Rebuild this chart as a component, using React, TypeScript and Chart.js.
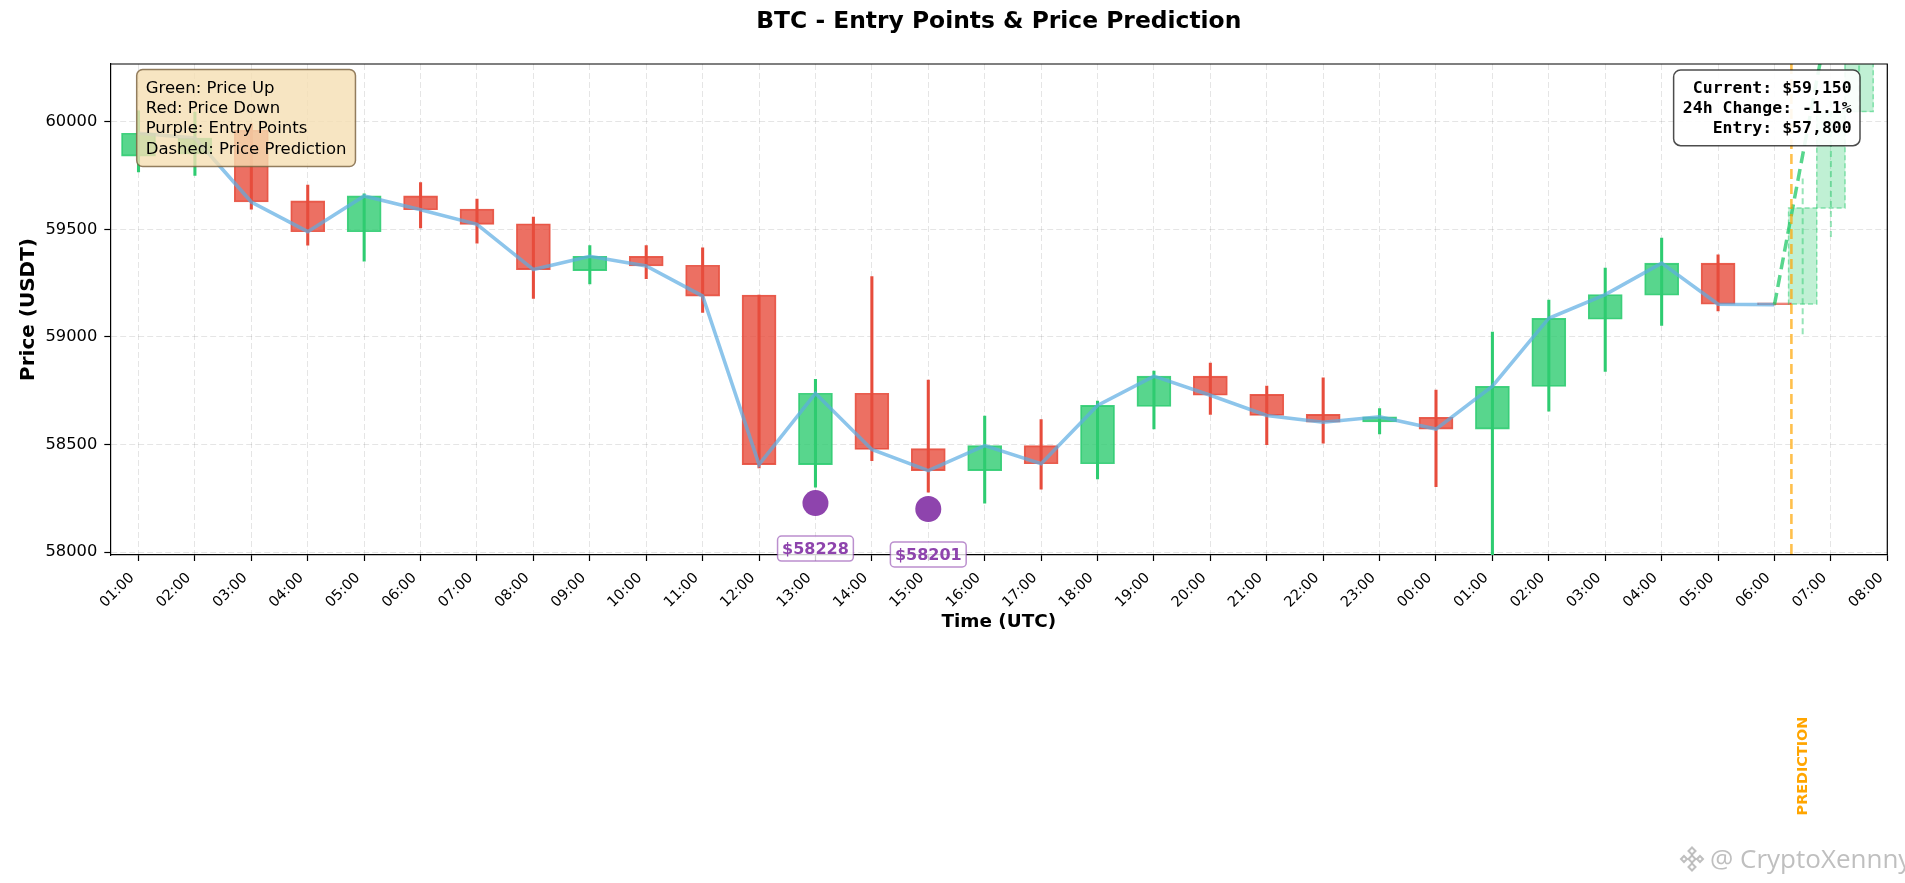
import React, { useEffect, useRef } from "react";
import { Chart, registerables } from "chart.js";

Chart.register(...registerables);

const FONT = "'DejaVu Sans', sans-serif";
const MONO = "'DejaVu Sans Mono', monospace";

const TITLE = "BTC - Entry Points & Price Prediction";

const TIME_LABELS = [
  "01:00", "02:00", "03:00", "04:00", "05:00", "06:00", "07:00", "08:00",
  "09:00", "10:00", "11:00", "12:00", "13:00", "14:00", "15:00", "16:00",
  "17:00", "18:00", "19:00", "20:00", "21:00", "22:00", "23:00", "00:00",
  "01:00", "02:00", "03:00", "04:00", "05:00", "06:00", "07:00", "08:00",
];

const OPEN = [
  59840, 59850, 59960, 59632, 59489, 59655, 59594, 59526, 59308, 59375,
  59333, 59195, 58407, 58738, 58481, 58379, 58495, 58411, 58677, 58818,
  58733, 58640, 58605, 58627, 58572, 58770, 59082, 59194, 59343, 59158,
];
const HIGH = [
  60050, 60045, 59990, 59705, 59665, 59717, 59640, 59557, 59425, 59425,
  59414, 59195, 58803, 59280, 58800, 58632, 58616, 58702, 58842, 58879,
  58772, 58810, 58667, 58753, 59023, 59171, 59320, 59459, 59382, 59158,
];
const LOW = [
  59767, 59750, 59594, 59426, 59352, 59506, 59436, 59179, 59246, 59271,
  59114, 58391, 58302, 58425, 58279, 58228, 58293, 58340, 58573, 58640,
  58500, 58506, 58549, 58304, 57980, 58655, 58840, 59054, 59121, 59149,
];
const CLOSE = [
  59946, 59924, 59627, 59489, 59655, 59591, 59523, 59313, 59375, 59330,
  59190, 58407, 58738, 58477, 58379, 58495, 58411, 58682, 58818, 58729,
  58635, 58604, 58629, 58572, 58771, 59087, 59197, 59343, 59152, 59150,
];

// prediction (positions in hour-index units of TIME_LABELS)
const PRED_X = [29.5, 30, 30.5];
const PRED_OPEN = [59153, 59599, 60047];
const PRED_CLOSE = [59599, 60047, 60480];
const PRED_HIGH = [59736, 60150, 60560];
const PRED_LOW = [59013, 59464, 60047];
const PRED_LINE_X = [29, 29.5, 30];
const PRED_LINE_Y = [59150, 59845, 60540];
const NOW_X = 29.3;

const ENTRY_X = [12, 14];
const ENTRY_PRICE = [58228, 58201];

const CURRENT_PRICE = 59150;
const CHANGE_24H = -1.1;
const ENTRY_TARGET = 57800;

const Y_TICKS = [58000, 58500, 59000, 59500, 60000];
const Y_MIN = 57987;
const Y_MAX = 60268;
const X_MIN = -0.5;
const X_MAX = 31;

const LEGEND_LINES = [
  "Green: Price Up",
  "Red: Price Down",
  "Purple: Entry Points",
  "Dashed: Price Prediction",
];

const WATERMARK = "@ CryptoXennny";

function roundRect(ctx: CanvasRenderingContext2D, x: number, y: number, w: number, h: number, r: number) {
  ctx.beginPath();
  ctx.moveTo(x + r, y);
  ctx.lineTo(x + w - r, y);
  ctx.arcTo(x + w, y, x + w, y + r, r);
  ctx.lineTo(x + w, y + h - r);
  ctx.arcTo(x + w, y + h, x + w - r, y + h, r);
  ctx.lineTo(x + r, y + h);
  ctx.arcTo(x, y + h, x, y + h - r, r);
  ctx.lineTo(x, y + r);
  ctx.arcTo(x, y, x + r, y, r);
  ctx.closePath();
}

function diamond(ctx: CanvasRenderingContext2D, cx: number, cy: number, r: number) {
  ctx.beginPath();
  ctx.moveTo(cx, cy - r);
  ctx.lineTo(cx + r, cy);
  ctx.lineTo(cx, cy + r);
  ctx.lineTo(cx - r, cy);
  ctx.closePath();
  ctx.stroke();
}

const candleColor = (i: number, a: number) =>
  CLOSE[i] >= OPEN[i] ? `rgba(46,204,113,${a})` : `rgba(231,76,60,${a})`;

const overlayPlugin = {
  id: "overlay",
  afterDraw(chart: any) {
    const { ctx, chartArea: ca, scales } = chart;
    const xs = scales.x;
    const ys = scales.y;

    // dashed outlines of predicted candles + "now" line
    const pi = chart.data.datasets.findIndex((d: any) => d.label === "Predicted candles");
    const pmeta = chart.getDatasetMeta(pi);
    ctx.save();
    ctx.beginPath();
    ctx.rect(ca.left, ca.top, ca.right - ca.left, ca.bottom - ca.top);
    ctx.clip();
    ctx.setLineDash([5, 3]);
    ctx.lineWidth = 1.5;
    ctx.strokeStyle = "rgba(46,204,113,0.5)";
    for (const el of pmeta.data) {
      const p = el.getProps(["x", "y", "base", "width"], true);
      const top = Math.min(p.y, p.base);
      const h = Math.abs(p.base - p.y);
      ctx.strokeRect(p.x - p.width / 2, top, p.width, h);
    }
    const nx = xs.getPixelForValue(NOW_X);
    ctx.setLineDash([10, 5]);
    ctx.lineWidth = 2.6;
    ctx.strokeStyle = "rgba(255,165,0,0.7)";
    ctx.beginPath();
    ctx.moveTo(nx, ca.top);
    ctx.lineTo(nx, ca.bottom);
    ctx.stroke();
    ctx.restore();

    // top and right spines
    ctx.save();
    ctx.strokeStyle = "#000";
    ctx.lineWidth = 1.2;
    ctx.beginPath();
    ctx.moveTo(ca.left, ca.top);
    ctx.lineTo(ca.right, ca.top);
    ctx.lineTo(ca.right, ca.bottom);
    ctx.stroke();
    ctx.restore();

    // entry labels
    ctx.save();
    ENTRY_X.forEach((ex, i) => {
      const px = xs.getPixelForValue(ex);
      const py = ys.getPixelForValue(ENTRY_PRICE[i]) + 45.5;
      const text = `$${ENTRY_PRICE[i]}`;
      ctx.font = `bold 16px ${FONT}`;
      const w = ctx.measureText(text).width + 9;
      const h = 25;
      roundRect(ctx, px - w / 2, py - h / 2, w, h, 4);
      ctx.fillStyle = "rgba(255,255,255,0.8)";
      ctx.fill();
      ctx.strokeStyle = "rgba(142,68,173,0.6)";
      ctx.lineWidth = 1.5;
      ctx.stroke();
      ctx.fillStyle = "#8E44AD";
      ctx.textAlign = "center";
      ctx.textBaseline = "middle";
      ctx.fillText(text, px, py + 1);
    });
    ctx.restore();

    // legend box (top-left)
    ctx.save();
    ctx.font = `16.5px ${FONT}`;
    const lx = ca.left + 26.4;
    const ly = ca.top + 5.5;
    const lw = Math.max(...LEGEND_LINES.map((t) => ctx.measureText(t).width)) + 18;
    roundRect(ctx, lx, ly, lw, 97, 6);
    ctx.fillStyle = "rgba(245,222,179,0.8)";
    ctx.fill();
    ctx.strokeStyle = "rgba(120,95,60,0.8)";
    ctx.lineWidth = 1.5;
    ctx.stroke();
    ctx.fillStyle = "#000";
    ctx.textAlign = "left";
    ctx.textBaseline = "alphabetic";
    LEGEND_LINES.forEach((t, i) => ctx.fillText(t, lx + 9, ly + 23.3 + i * 20.3));
    ctx.restore();

    // info box (top-right)
    ctx.save();
    ctx.font = `bold 16.5px ${MONO}`;
    const fmt = (n: number) => n.toLocaleString("en-US");
    const info = [
      `Current: $${fmt(CURRENT_PRICE)}`,
      `24h Change: ${CHANGE_24H.toFixed(1)}%`,
      `Entry: $${fmt(ENTRY_TARGET)}`,
    ];
    const iw = Math.max(...info.map((t) => ctx.measureText(t).width)) + 17.5;
    const ir = ca.right - 27.3;
    const it = ca.top + 6;
    roundRect(ctx, ir - iw, it, iw, 75.7, 7);
    ctx.fillStyle = "rgba(255,255,255,0.9)";
    ctx.fill();
    ctx.strokeStyle = "rgba(0,0,0,0.7)";
    ctx.lineWidth = 1.5;
    ctx.stroke();
    ctx.fillStyle = "#000";
    ctx.textAlign = "right";
    ctx.textBaseline = "alphabetic";
    info.forEach((t, i) => ctx.fillText(t, ir - 8.3, it + 22.5 + i * 20.2));
    ctx.restore();

    // PREDICTION label
    ctx.save();
    ctx.translate(nx + 12, ca.bottom + 211);
    ctx.rotate(-Math.PI / 2);
    ctx.font = `bold 14.4px ${FONT}`;
    ctx.fillStyle = "#FFA500";
    ctx.textAlign = "center";
    ctx.textBaseline = "middle";
    ctx.fillText("PREDICTION", 0, 0);
    ctx.restore();

    // watermark
    ctx.save();
    const wx = chart.width - 195;
    const wy = chart.height - 15;
    ctx.strokeStyle = "rgba(175,175,175,0.8)";
    ctx.lineWidth = 2;
    const cx = wx - 18;
    const cy = wy - 9;
    diamond(ctx, cx, cy, 3.5);
    diamond(ctx, cx - 8, cy, 3);
    diamond(ctx, cx + 8, cy, 3);
    diamond(ctx, cx, cy - 8, 3.5);
    diamond(ctx, cx, cy + 8, 3.5);
    ctx.font = `26px 'Open Sans', sans-serif`;
    ctx.fillStyle = "rgba(170,170,170,0.75)";
    ctx.textAlign = "left";
    ctx.textBaseline = "alphabetic";
    ctx.fillText(WATERMARK, wx, wy);
    ctx.restore();
  },
};

export default function App() {
  const ref = useRef<HTMLCanvasElement>(null);

  useEffect(() => {
    const canvas = ref.current;
    if (!canvas) return;

    const GRID = "rgba(0,0,0,0.1)";

    const chart = new Chart(canvas, {
      type: "bar",
      data: {
        datasets: [
          {
            type: "scatter",
            label: "Entry points",
            data: ENTRY_X.map((x, i) => ({ x, y: ENTRY_PRICE[i] })),
            pointRadius: 13,
            pointBackgroundColor: "#8E44AD",
            pointBorderColor: "#8E44AD",
            pointBorderWidth: 0,
            order: 1,
          } as any,
          {
            type: "line",
            label: "Prediction",
            data: PRED_LINE_X.map((x, i) => ({ x, y: PRED_LINE_Y[i] })),
            borderColor: "rgba(46,204,113,0.8)",
            borderWidth: 3.5,
            borderDash: [12, 6],
            pointRadius: 0,
            fill: false,
            order: 2,
          } as any,
          {
            type: "line",
            label: "Close",
            data: CLOSE.map((c, i) => ({ x: i, y: c })),
            borderColor: "rgba(93,173,226,0.7)",
            borderWidth: 3.6,
            pointRadius: 0,
            tension: 0,
            fill: false,
            order: 3,
          } as any,
          {
            type: "bar",
            label: "Bodies",
            data: OPEN.map((o, i) => ({ x: i, y: [o, CLOSE[i]] })),
            backgroundColor: (c: any) => candleColor(c.dataIndex, 0.8),
            borderColor: (c: any) => candleColor(c.dataIndex, 0.9),
            borderWidth: 1.2,
            borderSkipped: false,
            barThickness: 34,
            grouped: false,
            order: 4,
          } as any,
          {
            type: "bar",
            label: "Wicks",
            data: LOW.map((l, i) => ({ x: i, y: [l, HIGH[i]] })),
            backgroundColor: (c: any) => candleColor(c.dataIndex, 1),
            borderWidth: 0,
            barThickness: 2.4,
            grouped: false,
            order: 5,
          } as any,
          {
            type: "bar",
            label: "Predicted candles",
            data: PRED_X.map((x, i) => ({ x, y: [PRED_OPEN[i], PRED_CLOSE[i]] })),
            backgroundColor: "rgba(46,204,113,0.3)",
            borderWidth: 0,
            barThickness: 28.2,
            grouped: false,
            order: 6,
          } as any,
          {
            type: "line",
            label: "Predicted wicks",
            data: PRED_X.flatMap((x, i) => [
              { x, y: PRED_LOW[i] },
              { x, y: PRED_HIGH[i] },
              { x, y: null },
            ]),
            borderColor: "rgba(46,204,113,0.5)",
            borderWidth: 2,
            borderDash: [6, 4],
            pointRadius: 0,
            spanGaps: false,
            fill: false,
            order: 7,
          } as any,
        ],
      },
      options: {
        responsive: false,
        animation: false,
        events: [],
        layout: { padding: { left: 0, right: 17.7, top: 0, bottom: 250 } },
        plugins: {
          legend: { display: false },
          tooltip: { enabled: false },
          title: {
            display: true,
            fullSize: false,
            text: TITLE,
            color: "#000",
            font: { family: FONT, size: 23.4, weight: "bold" },
            padding: { top: 7.96, bottom: 27.96 },
          },
        },
        scales: {
          x: {
            type: "linear",
            min: X_MIN,
            max: X_MAX,
            offset: false,
            afterBuildTicks: (s: any) => {
              s.ticks = TIME_LABELS.map((_, i) => ({ value: i }));
            },
            afterFit: (s: any) => {
              s.height = 78;
              s.paddingLeft = 0;
              s.paddingRight = 0;
            },
            ticks: {
              autoSkip: false,
              maxRotation: 45,
              minRotation: 45,
              padding: 8.5,
              labelOffset: -6.3,
              color: "#000",
              font: { family: FONT, size: 14.5 },
              callback: (v: any) => TIME_LABELS[Math.round(Number(v))] ?? "",
            },
            grid: {
              color: GRID,
              lineWidth: 1,
              drawTicks: true,
              tickLength: 6,
              tickColor: "#000",
              tickWidth: 1.2,
              offset: false,
            },
            border: { display: true, color: "#000", width: 1.2, dash: [6, 3] },
            title: {
              display: true,
              text: "Time (UTC)",
              color: "#000",
              font: { family: FONT, size: 18.4, weight: "bold" },
              padding: { top: 0, bottom: 0 },
            },
          },
          y: {
            type: "linear",
            min: Y_MIN,
            max: Y_MAX,
            beginAtZero: false,
            afterBuildTicks: (s: any) => {
              s.ticks = Y_TICKS.map((v) => ({ value: v }));
            },
            afterFit: (s: any) => {
              s.width = 110.3;
              s.paddingTop = 0;
              s.paddingBottom = 0;
            },
            ticks: {
              padding: 7,
              color: "#000",
              font: { family: FONT, size: 16.3 },
              callback: (v: any) => String(v),
            },
            grid: {
              color: GRID,
              lineWidth: 1,
              drawTicks: true,
              tickLength: 6,
              tickColor: "#000",
              tickWidth: 1.2,
            },
            border: { display: true, color: "#000", width: 1.2, dash: [6, 3] },
            title: {
              display: true,
              text: "Price (USDT)",
              color: "#000",
              font: { family: FONT, size: 20, weight: "bold" },
              padding: { top: 16.3, bottom: 0 },
            },
          },
        },
      } as any,
      plugins: [overlayPlugin],
    });

    return () => chart.destroy();
  }, []);

  return (
    <div style={{ position: "fixed", left: 0, top: 0, width: 1905, height: 883, background: "#fff" }}>
      <canvas ref={ref} width={1905} height={883} style={{ display: "block", width: 1905, height: 883 }} />
    </div>
  );
}
